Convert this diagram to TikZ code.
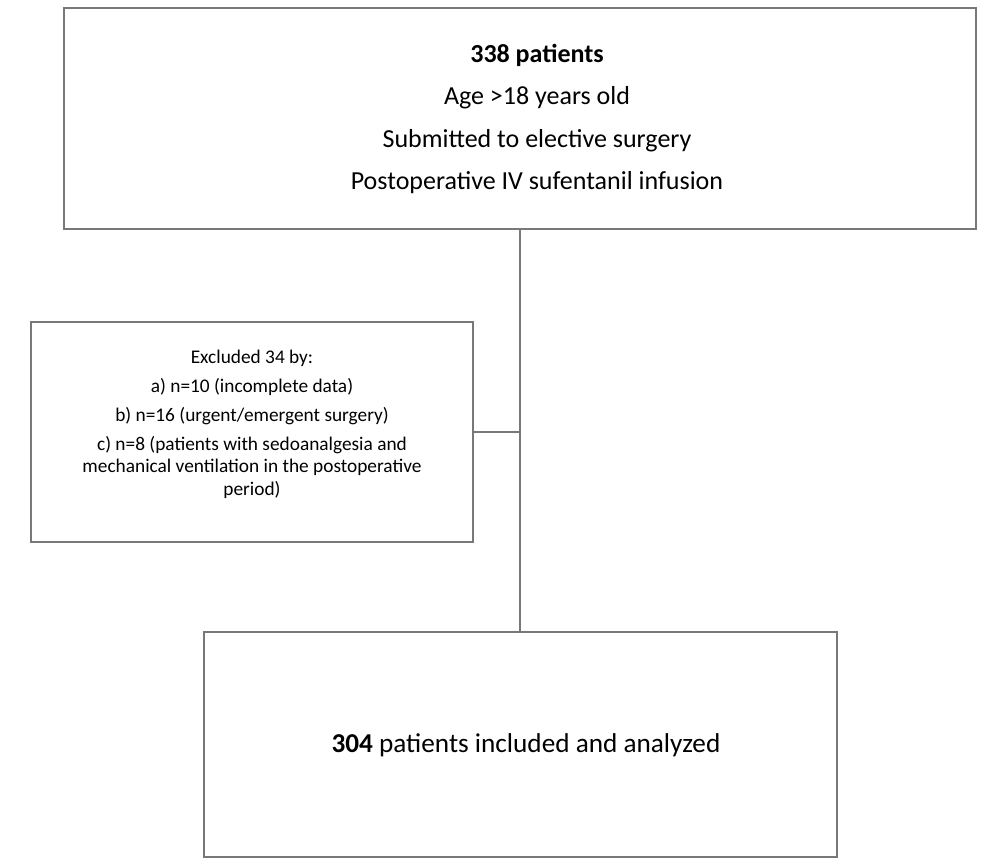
\documentclass[tikz,border=0pt]{standalone}
\usepackage{fontspec}
\setmainfont{Carlito}
\usetikzlibrary{positioning}
\definecolor{boxgray}{RGB}{120,120,120}
\begin{document}
\begin{tikzpicture}[
    x=0.02cm, y=-0.02cm,
    box/.style={draw=boxgray, line width=0.8pt, inner sep=0pt},
    link/.style={draw=boxgray, line width=0.8pt}
]
\useasboundingbox (0,0) rectangle (986,863);
% Boxes
\node[box, minimum width=18.24cm, minimum height=4.42cm] (top) at (520,118.5) {};
\node[box, minimum width=8.84cm, minimum height=4.4cm] (excl) at (252,432) {};
\node[box, minimum width=12.66cm, minimum height=4.5cm] (bottom) at (520.5,744.5) {};

% Texts
\node[font=\fontsize{14.8}{24}\selectfont, align=center] (toptext) at (537,119)
  {\textbf{338 patients}\\Age >18 years old\\Submitted to elective surgery\\Postoperative IV sufentanil infusion};
\node[font=\fontsize{11}{12.6}\selectfont, align=center] (excltext) at (252,424)
  {Excluded 34 by:\\[4pt]a) n=10 (incomplete data)\\[4pt]b) n=16 (urgent/emergent surgery)\\[4pt]c) n=8 (patients with sedoanalgesia and\\mechanical ventilation in the postoperative\\period)};
\node[font=\fontsize{15.5}{18}\selectfont] (bottomtext) at (526,745)
  {\textbf{304} patients included and analyzed};

% Connectors
\coordinate (join) at (520,433);
\draw[link] (top.south -| join) -- (bottom.north -| join);
\draw[link] (excl.east) -- (excl.east -| join);
\end{tikzpicture}
\end{document}
